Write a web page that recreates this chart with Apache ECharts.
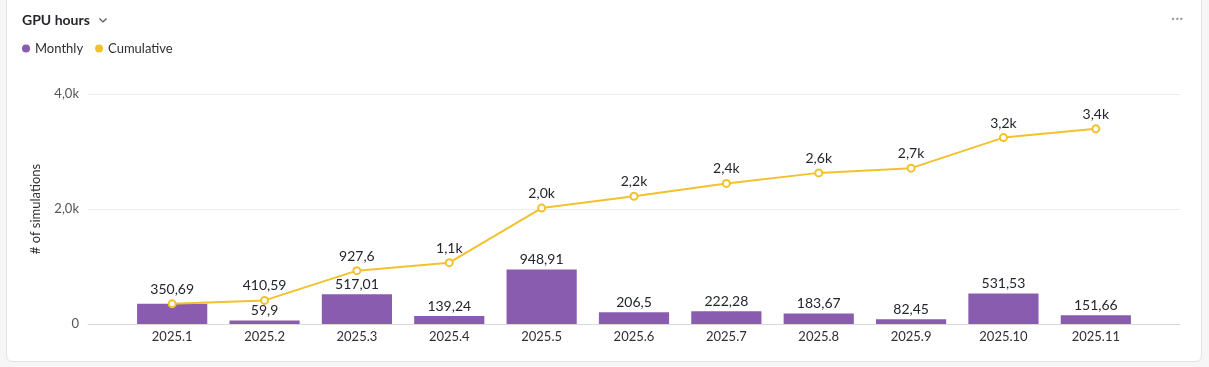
<!DOCTYPE html>
<html>
<head>
<meta charset="utf-8">
<script src="https://cdn.jsdelivr.net/npm/echarts@6/dist/echarts.min.js"></script>
<style>
  html, body { margin: 0; padding: 0; width: 1209px; height: 367px; background: #f6f6f7; overflow: hidden; }
  #card { position: absolute; left: 6px; right: 7px; top: -10px; bottom: 5px; background: #fff; border: 1px solid #e2e2e4; border-radius: 6px; }
  #chart { position: absolute; left: 0; top: 0; width: 1209px; height: 367px; }
</style>
</head>
<body>
<div id="card"></div>
<div id="chart"></div>
<script>
const categories = ['2025.1','2025.2','2025.3','2025.4','2025.5','2025.6','2025.7','2025.8','2025.9','2025.10','2025.11'];
const monthly = [350.69, 59.9, 517.01, 139.24, 948.91, 206.5, 222.28, 183.67, 82.45, 531.53, 151.66];
const cumulative = [350.69, 410.59, 927.6, 1066.84, 2015.75, 2222.25, 2444.53, 2628.2, 2710.65, 3242.18, 3393.84];
const yTicks = [0, 2000, 4000];

const FONT = 'Lato, "Noto Sans", sans-serif';
const dec = v => String(v).replace('.', ',');
const fmt = v => v >= 1000 ? (v / 1000).toFixed(1).replace('.', ',') + 'k' : dec(v);
const yMin = yTicks[0], yMax = yTicks[yTicks.length - 1], yStep = yTicks[1] - yTicks[0];

const chart = echarts.init(document.getElementById('chart'));
chart.setOption({
  animation: false,
  textStyle: { fontFamily: FONT },
  title: {
    text: 'GPU hours', left: 17, top: 8,
    textStyle: { fontFamily: FONT, fontSize: 14, fontWeight: 'bold', color: '#26262c' }
  },
  legend: {
    left: 17, top: 37, icon: 'circle', itemWidth: 8, itemHeight: 8, itemGap: 12,
    textStyle: { fontFamily: FONT, fontSize: 13, color: '#2f2f36' },
    data: ['Monthly', 'Cumulative']
  },
  graphic: [
    { type: 'polyline', left: 97, top: 16, shape: { points: [[0, 0], [3.5, 3.5], [7, 0]] },
      style: { stroke: '#555', lineWidth: 1.2, fill: null } },
    { type: 'text', left: 1171, top: 10, style: { text: '···', fill: '#9a9a9a', fontSize: 16, fontFamily: FONT } }
  ],
  grid: [
    { left: 88, right: 29, top: 94, bottom: 43 },
    { left: 126, right: 67, top: 94, bottom: 43 }
  ],
  xAxis: [
    { gridIndex: 0, type: 'value', min: 0, max: 1, axisLabel: { show: false }, axisTick: { show: false },
      splitLine: { show: false }, axisLine: { show: true, lineStyle: { color: '#d9d9d9' } } },
    { gridIndex: 1, type: 'category', data: categories, axisLine: { show: false }, axisTick: { show: false },
      axisLabel: { margin: 6, fontSize: 13, color: '#2f2f36', fontFamily: FONT } }
  ],
  yAxis: [
    { gridIndex: 0, type: 'value', min: yMin, max: yMax, interval: yStep,
      name: '# of simulations', nameLocation: 'middle', nameGap: 46,
      nameTextStyle: { fontSize: 13, color: '#2f2f36', fontFamily: FONT },
      axisLine: { show: false }, axisTick: { show: false },
      axisLabel: { margin: 9, fontSize: 13, color: '#555', fontFamily: FONT, formatter: v => v === 0 ? '0' : fmt(v) },
      splitLine: { lineStyle: { color: '#ececec' } } },
    { gridIndex: 1, type: 'value', min: yMin, max: yMax, interval: yStep, show: false, splitLine: { show: false } }
  ],
  series: [
    { name: 'Monthly', type: 'bar', xAxisIndex: 1, yAxisIndex: 1, data: monthly,
      barCategoryGap: '24%', itemStyle: { color: '#8a5cb0' },
      label: { show: true, position: 'top', distance: 3, fontSize: 14, color: '#24262f', fontFamily: FONT,
        // the duplicate label (same value as the cumulative point) is hidden, as in the reference
        formatter: p => monthly[p.dataIndex] === cumulative[p.dataIndex] ? '' : dec(p.value) } },
    { name: 'Cumulative', type: 'line', xAxisIndex: 1, yAxisIndex: 1, data: cumulative, z: 3,
      symbol: 'emptyCircle', symbolSize: 7, showAllSymbol: true,
      lineStyle: { color: '#f2c12e', width: 2 }, itemStyle: { color: '#f2c12e', borderWidth: 1.6 },
      label: { show: true, position: 'top', distance: 3, fontSize: 14, color: '#24262f', fontFamily: FONT, formatter: p => fmt(p.value) } }
  ]
});
</script>
</body>
</html>
